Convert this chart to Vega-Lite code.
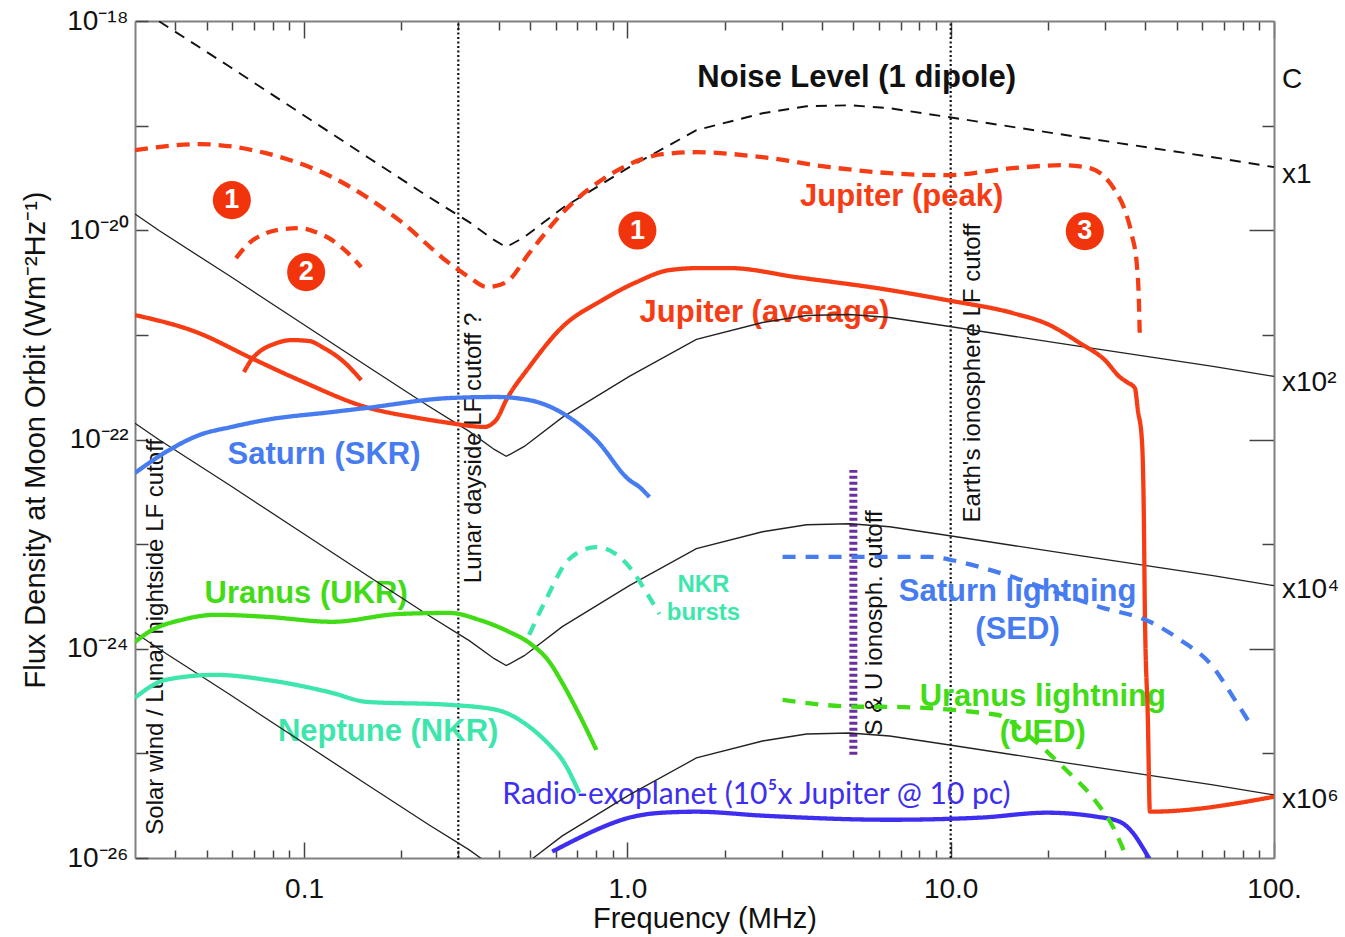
{
  "$schema": "https://vega.github.io/schema/vega-lite/v6.json",
  "width": 1139,
  "height": 837,
  "autosize": {"type": "none"},
  "padding": {"left": 135, "top": 21, "right": 71, "bottom": 79},
  "background": "white",
  "config": {
    "view": {"stroke": null},
    "font": "Liberation Sans",
    "axis": {"grid": false}
  },
  "datasets": {
    "curves": [
      {"s": "noise", "f": 0.0356, "v": 9.93e-19},
      {"s": "noise", "f": 0.0586, "v": 3.69e-19},
      {"s": "noise", "f": 0.0965, "v": 1.343e-19},
      {"s": "noise", "f": 0.159, "v": 4.88e-20},
      {"s": "noise", "f": 0.2438, "v": 2.07e-20},
      {"s": "noise", "f": 0.3243, "v": 1.195e-20},
      {"s": "noise", "f": 0.3876, "v": 8.04e-21},
      {"s": "noise", "f": 0.422, "v": 6.9e-21},
      {"s": "noise", "f": 0.4799, "v": 8.59e-21},
      {"s": "noise", "f": 0.6291, "v": 1.626e-20},
      {"s": "noise", "f": 1.014, "v": 4.01e-20},
      {"s": "noise", "f": 1.635, "v": 9.04e-20},
      {"s": "noise", "f": 2.618, "v": 1.313e-19},
      {"s": "noise", "f": 3.583, "v": 1.532e-19},
      {"s": "noise", "f": 4.868, "v": 1.566e-19},
      {"s": "noise", "f": 6.475, "v": 1.466e-19},
      {"s": "noise", "f": 9.93, "v": 1.202e-19},
      {"s": "noise", "f": 25.08, "v": 7.75e-20},
      {"s": "noise", "f": 64.74, "v": 4.99e-20},
      {"s": "noise", "f": 100, "v": 4.01e-20},

      {"s": "s2", "f": 0.03, "v": 1.43e-20},
      {"s": "s2", "f": 0.0356, "v": 9.93e-21},
      {"s": "s2", "f": 0.0586, "v": 3.69e-21},
      {"s": "s2", "f": 0.0965, "v": 1.343e-21},
      {"s": "s2", "f": 0.159, "v": 4.88e-22},
      {"s": "s2", "f": 0.2438, "v": 2.07e-22},
      {"s": "s2", "f": 0.3243, "v": 1.195e-22},
      {"s": "s2", "f": 0.3876, "v": 8.04e-23},
      {"s": "s2", "f": 0.422, "v": 6.9e-23},
      {"s": "s2", "f": 0.4799, "v": 8.59e-23},
      {"s": "s2", "f": 0.6291, "v": 1.626e-22},
      {"s": "s2", "f": 1.014, "v": 4.01e-22},
      {"s": "s2", "f": 1.635, "v": 9.04e-22},
      {"s": "s2", "f": 2.618, "v": 1.313e-21},
      {"s": "s2", "f": 3.583, "v": 1.532e-21},
      {"s": "s2", "f": 4.868, "v": 1.566e-21},
      {"s": "s2", "f": 6.475, "v": 1.466e-21},
      {"s": "s2", "f": 9.93, "v": 1.202e-21},
      {"s": "s2", "f": 25.08, "v": 7.75e-22},
      {"s": "s2", "f": 64.74, "v": 4.99e-22},
      {"s": "s2", "f": 100, "v": 4.01e-22},

      {"s": "s4", "f": 0.03, "v": 1.43e-22},
      {"s": "s4", "f": 0.0356, "v": 9.93e-23},
      {"s": "s4", "f": 0.0586, "v": 3.69e-23},
      {"s": "s4", "f": 0.0965, "v": 1.343e-23},
      {"s": "s4", "f": 0.159, "v": 4.88e-24},
      {"s": "s4", "f": 0.2438, "v": 2.07e-24},
      {"s": "s4", "f": 0.3243, "v": 1.195e-24},
      {"s": "s4", "f": 0.3876, "v": 8.04e-25},
      {"s": "s4", "f": 0.422, "v": 6.9e-25},
      {"s": "s4", "f": 0.4799, "v": 8.59e-25},
      {"s": "s4", "f": 0.6291, "v": 1.626e-24},
      {"s": "s4", "f": 1.014, "v": 4.01e-24},
      {"s": "s4", "f": 1.635, "v": 9.04e-24},
      {"s": "s4", "f": 2.618, "v": 1.313e-23},
      {"s": "s4", "f": 3.583, "v": 1.532e-23},
      {"s": "s4", "f": 4.868, "v": 1.566e-23},
      {"s": "s4", "f": 6.475, "v": 1.466e-23},
      {"s": "s4", "f": 9.93, "v": 1.202e-23},
      {"s": "s4", "f": 25.08, "v": 7.75e-24},
      {"s": "s4", "f": 64.74, "v": 4.99e-24},
      {"s": "s4", "f": 100, "v": 4.01e-24},

      {"s": "s6", "f": 0.03, "v": 1.43e-24},
      {"s": "s6", "f": 0.0356, "v": 9.93e-25},
      {"s": "s6", "f": 0.0586, "v": 3.69e-25},
      {"s": "s6", "f": 0.0965, "v": 1.343e-25},
      {"s": "s6", "f": 0.159, "v": 4.88e-26},
      {"s": "s6", "f": 0.2438, "v": 2.07e-26},
      {"s": "s6", "f": 0.3243, "v": 1.195e-26},
      {"s": "s6", "f": 0.3876, "v": 8.04e-27},
      {"s": "s6", "f": 0.422, "v": 6.9e-27},
      {"s": "s6", "f": 0.4799, "v": 8.59e-27},
      {"s": "s6", "f": 0.6291, "v": 1.626e-26},
      {"s": "s6", "f": 1.014, "v": 4.01e-26},
      {"s": "s6", "f": 1.635, "v": 9.04e-26},
      {"s": "s6", "f": 2.618, "v": 1.313e-25},
      {"s": "s6", "f": 3.583, "v": 1.532e-25},
      {"s": "s6", "f": 4.868, "v": 1.566e-25},
      {"s": "s6", "f": 6.475, "v": 1.466e-25},
      {"s": "s6", "f": 9.93, "v": 1.202e-25},
      {"s": "s6", "f": 25.08, "v": 7.75e-26},
      {"s": "s6", "f": 64.74, "v": 4.99e-26},
      {"s": "s6", "f": 100, "v": 4.01e-26},

      {"s": "jpeak", "f": 0.03, "v": 5.82e-20},
      {"s": "jpeak", "f": 0.04729, "v": 6.65e-20},
      {"s": "jpeak", "f": 0.07627, "v": 5.45e-20},
      {"s": "jpeak", "f": 0.1221, "v": 3.22e-20},
      {"s": "jpeak", "f": 0.1968, "v": 1.249e-20},
      {"s": "jpeak", "f": 0.2812, "v": 4.85e-21},
      {"s": "jpeak", "f": 0.3242, "v": 3.56e-21},
      {"s": "jpeak", "f": 0.3686, "v": 2.86e-21},
      {"s": "jpeak", "f": 0.422, "v": 3.19e-21},
      {"s": "jpeak", "f": 0.4971, "v": 6.04e-21},
      {"s": "jpeak", "f": 0.6291, "v": 1.457e-20},
      {"s": "jpeak", "f": 0.8985, "v": 3.51e-20},
      {"s": "jpeak", "f": 1.283, "v": 5.33e-20},
      {"s": "jpeak", "f": 1.635, "v": 5.57e-20},
      {"s": "jpeak", "f": 2.618, "v": 4.99e-20},
      {"s": "jpeak", "f": 4.222, "v": 4.01e-20},
      {"s": "jpeak", "f": 6.475, "v": 3.51e-20},
      {"s": "jpeak", "f": 9.719, "v": 3.36e-20},
      {"s": "jpeak", "f": 15.56, "v": 3.92e-20},
      {"s": "jpeak", "f": 22.22, "v": 4.19e-20},
      {"s": "jpeak", "f": 26.94, "v": 3.92e-20},
      {"s": "jpeak", "f": 29.99, "v": 3.22e-20},
      {"s": "jpeak", "f": 32.19, "v": 2.42e-20},
      {"s": "jpeak", "f": 34.57, "v": 1.556e-20},
      {"s": "jpeak", "f": 36.34, "v": 8.98e-21},
      {"s": "jpeak", "f": 37.66, "v": 4.64e-21},
      {"s": "jpeak", "f": 38.2, "v": 2.15e-21},
      {"s": "jpeak", "f": 38.47, "v": 8.92e-22},

      {"s": "j2d", "f": 0.0616, "v": 5.41e-21},
      {"s": "j2d", "f": 0.0676, "v": 7.53e-21},
      {"s": "j2d", "f": 0.07627, "v": 9.38e-21},
      {"s": "j2d", "f": 0.0855, "v": 1.024e-20},
      {"s": "j2d", "f": 0.0965, "v": 1.047e-20},
      {"s": "j2d", "f": 0.1089, "v": 9.59e-21},
      {"s": "j2d", "f": 0.1221, "v": 8.04e-21},
      {"s": "j2d", "f": 0.1358, "v": 6.18e-21},
      {"s": "j2d", "f": 0.1502, "v": 4.44e-21},

      {"s": "javg", "f": 0.03, "v": 1.546e-21},
      {"s": "javg", "f": 0.04729, "v": 1.04e-21},
      {"s": "javg", "f": 0.0676, "v": 6.14e-22},
      {"s": "javg", "f": 0.0965, "v": 3.7e-22},
      {"s": "javg", "f": 0.1556, "v": 2.04e-22},
      {"s": "javg", "f": 0.227, "v": 1.6e-22},
      {"s": "javg", "f": 0.2812, "v": 1.44e-22},
      {"s": "javg", "f": 0.3242, "v": 1.35e-22},
      {"s": "javg", "f": 0.3608, "v": 1.32e-22},
      {"s": "javg", "f": 0.393, "v": 1.54e-22},
      {"s": "javg", "f": 0.422, "v": 2.38e-22},
      {"s": "javg", "f": 0.4971, "v": 4.93e-22},
      {"s": "javg", "f": 0.6291, "v": 1.19e-21},
      {"s": "javg", "f": 0.8368, "v": 2.15e-21},
      {"s": "javg", "f": 1.066, "v": 3.19e-21},
      {"s": "javg", "f": 1.349, "v": 4.16e-21},
      {"s": "javg", "f": 1.671, "v": 4.35e-21},
      {"s": "javg", "f": 2.07, "v": 4.35e-21},
      {"s": "javg", "f": 3.336, "v": 3.56e-21},
      {"s": "javg", "f": 6.475, "v": 2.68e-21},
      {"s": "javg", "f": 9.719, "v": 2.15e-21},
      {"s": "javg", "f": 15.56, "v": 1.615e-21},
      {"s": "javg", "f": 20.25, "v": 1.24e-21},
      {"s": "javg", "f": 25.08, "v": 8.35e-22},
      {"s": "javg", "f": 29.99, "v": 5.74e-22},
      {"s": "javg", "f": 33.37, "v": 3.95e-22},
      {"s": "javg", "f": 35.07, "v": 3.54e-22},
      {"s": "javg", "f": 37.13, "v": 3.1e-22},
      {"s": "javg", "f": 37.93, "v": 1.91e-22},
      {"s": "javg", "f": 39.03, "v": 9.89e-23},
      {"s": "javg", "f": 39.59, "v": 1.7e-23},
      {"s": "javg", "f": 39.86, "v": 2.36e-24},
      {"s": "javg", "f": 40.73, "v": 2.09e-25},
      {"s": "javg", "f": 41.32, "v": 2.77e-26},
      {"s": "javg", "f": 100, "v": 3.85e-26},

      {"s": "j2s", "f": 0.0652, "v": 4.41e-22},
      {"s": "j2s", "f": 0.0686, "v": 5.74e-22},
      {"s": "j2s", "f": 0.0726, "v": 6.86e-22},
      {"s": "j2s", "f": 0.0807, "v": 8.17e-22},
      {"s": "j2s", "f": 0.0918, "v": 8.92e-22},
      {"s": "j2s", "f": 0.1036, "v": 8.73e-22},
      {"s": "j2s", "f": 0.1153, "v": 7.48e-22},
      {"s": "j2s", "f": 0.133, "v": 5.5e-22},
      {"s": "j2s", "f": 0.1502, "v": 3.7e-22},

      {"s": "skr", "f": 0.03, "v": 4.79e-23},
      {"s": "skr", "f": 0.03739, "v": 7.6e-23},
      {"s": "skr", "f": 0.04729, "v": 1.1e-22},
      {"s": "skr", "f": 0.0598, "v": 1.32e-22},
      {"s": "skr", "f": 0.07627, "v": 1.54e-22},
      {"s": "skr", "f": 0.1221, "v": 1.83e-22},
      {"s": "skr", "f": 0.1556, "v": 2.0e-22},
      {"s": "skr", "f": 0.2812, "v": 2.49e-22},
      {"s": "skr", "f": 0.393, "v": 2.55e-22},
      {"s": "skr", "f": 0.4971, "v": 2.38e-22},
      {"s": "skr", "f": 0.6291, "v": 1.79e-22},
      {"s": "skr", "f": 0.8017, "v": 9.89e-23},
      {"s": "skr", "f": 1.014, "v": 4.1e-23},
      {"s": "skr", "f": 1.089, "v": 3.52e-23},
      {"s": "skr", "f": 1.17, "v": 2.82e-23},

      {"s": "ukr", "f": 0.03, "v": 1.16e-24},
      {"s": "ukr", "f": 0.03312, "v": 1.45e-24},
      {"s": "ukr", "f": 0.04192, "v": 1.89e-24},
      {"s": "ukr", "f": 0.0534, "v": 2.11e-24},
      {"s": "ukr", "f": 0.07627, "v": 2.02e-24},
      {"s": "ukr", "f": 0.1221, "v": 1.81e-24},
      {"s": "ukr", "f": 0.1968, "v": 2.15e-24},
      {"s": "ukr", "f": 0.2812, "v": 2.2e-24},
      {"s": "ukr", "f": 0.348, "v": 1.89e-24},
      {"s": "ukr", "f": 0.4311, "v": 1.45e-24},
      {"s": "ukr", "f": 0.4971, "v": 1.14e-24},
      {"s": "ukr", "f": 0.5734, "v": 7.5e-25},
      {"s": "ukr", "f": 0.6291, "v": 4.72e-25},
      {"s": "ukr", "f": 0.7101, "v": 2.34e-25},
      {"s": "ukr", "f": 0.8017, "v": 1.08e-25},

      {"s": "nkr", "f": 0.03, "v": 3.4e-25},
      {"s": "nkr", "f": 0.03739, "v": 5.05e-25},
      {"s": "nkr", "f": 0.0534, "v": 5.63e-25},
      {"s": "nkr", "f": 0.07627, "v": 5.05e-25},
      {"s": "nkr", "f": 0.1221, "v": 3.79e-25},
      {"s": "nkr", "f": 0.1556, "v": 3.11e-25},
      {"s": "nkr", "f": 0.2812, "v": 2.91e-25},
      {"s": "nkr", "f": 0.393, "v": 2.61e-25},
      {"s": "nkr", "f": 0.4971, "v": 1.8e-25},
      {"s": "nkr", "f": 0.5734, "v": 1.21e-25},
      {"s": "nkr", "f": 0.6291, "v": 8.69e-26},
      {"s": "nkr", "f": 0.7101, "v": 4.2e-26},

      {"s": "nkrb", "f": 0.4971, "v": 1.36e-24},
      {"s": "nkrb", "f": 0.5612, "v": 2.99e-24},
      {"s": "nkrb", "f": 0.6613, "v": 7.21e-24},
      {"s": "nkrb", "f": 0.8017, "v": 9.37e-24},
      {"s": "nkrb", "f": 1.014, "v": 6.06e-24},
      {"s": "nkrb", "f": 1.153, "v": 3.34e-24},
      {"s": "nkrb", "f": 1.256, "v": 2.15e-24},

      {"s": "exo", "f": 0.5857, "v": 1.15e-26},
      {"s": "exo", "f": 0.7101, "v": 1.56e-26},
      {"s": "exo", "f": 0.8017, "v": 1.86e-26},
      {"s": "exo", "f": 1.014, "v": 2.43e-26},
      {"s": "exo", "f": 1.283, "v": 2.71e-26},
      {"s": "exo", "f": 1.635, "v": 2.77e-26},
      {"s": "exo", "f": 2.618, "v": 2.54e-26},
      {"s": "exo", "f": 6.475, "v": 2.32e-26},
      {"s": "exo", "f": 12.3, "v": 2.43e-26},
      {"s": "exo", "f": 19.83, "v": 2.71e-26},
      {"s": "exo", "f": 28.31, "v": 2.48e-26},
      {"s": "exo", "f": 33.37, "v": 2.22e-26},
      {"s": "exo", "f": 36.6, "v": 1.74e-26},
      {"s": "exo", "f": 39.31, "v": 1.25e-26},
      {"s": "exo", "f": 41.32, "v": 9.63e-27},

      {"s": "sed", "f": 3.02, "v": 7.55e-24},
      {"s": "sed", "f": 5.226, "v": 7.55e-24},
      {"s": "sed", "f": 8.61, "v": 7.55e-24},
      {"s": "sed", "f": 10.66, "v": 6.76e-24},
      {"s": "sed", "f": 14.18, "v": 5.31e-24},
      {"s": "sed", "f": 20.25, "v": 3.65e-24},
      {"s": "sed", "f": 28.93, "v": 2.51e-24},
      {"s": "sed", "f": 41.32, "v": 1.81e-24},
      {"s": "sed", "f": 51.17, "v": 1.22e-24},
      {"s": "sed", "f": 64.74, "v": 6.72e-25},
      {"s": "sed", "f": 74.66, "v": 3.47e-25},
      {"s": "sed", "f": 85.5, "v": 1.8e-25},

      {"s": "ued", "f": 3.02, "v": 3.25e-25},
      {"s": "ued", "f": 5.226, "v": 2.79e-25},
      {"s": "ued", "f": 6.03, "v": 2.79e-25},
      {"s": "ued", "f": 13.88, "v": 2.34e-25},
      {"s": "ued", "f": 17.56, "v": 1.44e-25},
      {"s": "ued", "f": 22.22, "v": 7.45e-26},
      {"s": "ued", "f": 28.31, "v": 3.38e-26},
      {"s": "ued", "f": 31.74, "v": 1.99e-26},
      {"s": "ued", "f": 35.07, "v": 1.0e-26}
    ],
    "cuts": [
      {"s": "cut", "f": 0.3, "v": 1e-26, "v2": 1e-18},
      {"s": "cut", "f": 10, "v": 1e-26, "v2": 1e-18}
    ],
    "ionocut": [
      {"s": "su", "f": 5, "v": 9.7e-26, "v2": 5.11e-23}
    ],
    "labels": [
      {"s": "noise", "f": 5.12, "v": 2.84e-19, "t": "Noise Level (1 dipole)"},
      {"s": "jpeak", "f": 7.05, "v": 2.07e-20, "t": "Jupiter (peak)"},
      {"s": "javg", "f": 2.656, "v": 1.615e-21, "t": "Jupiter (average)"},
      {"s": "skr", "f": 0.1153, "v": 7.11e-23, "t": "Saturn (SKR)"},
      {"s": "ukr", "f": 0.1015, "v": 3.34e-24, "t": "Uranus (UKR)"},
      {"s": "nkr", "f": 0.182, "v": 1.61e-25, "t": "Neptune (NKR)"},
      {"s": "sed", "f": 16.1, "v": 3.49e-24, "t": "Saturn lightning"},
      {"s": "sed", "f": 16.1, "v": 1.52e-24, "t": "(SED)"},
      {"s": "ued", "f": 19.27, "v": 3.47e-25, "t": "Uranus lightning"},
      {"s": "ued", "f": 19.27, "v": 1.57e-25, "t": "(UED)"}
    ],
    "small": [
      {"s": "nkrb", "f": 1.719, "v": 4.08e-24, "t": "NKR"},
      {"s": "nkrb", "f": 1.719, "v": 2.2e-24, "t": "bursts"}
    ],
    "vlabels": [
      {"s": "black", "f": 0.0348, "v": 1.3e-24, "t": "Solar wind / Lunar nightside LF cutoff"},
      {"s": "black", "f": 0.336, "v": 8.3e-23, "t": "Lunar dayside LF cutoff ?"},
      {"s": "black", "f": 5.818, "v": 1.767e-24, "t": "S & U ionosph. cutoff"},
      {"s": "black", "f": 11.7, "v": 4.315e-22, "t": "Earth's ionosphere LF cutoff"}
    ],
    "exolabel": [
      {"s": "exo", "f": 2.508, "v": 4.02e-26, "t": "Radio-exoplanet (10⁵x Jupiter @ 10 pc)"}
    ],
    "rlabels": [
      {"s": "black", "f": 100, "v": 2.71e-19, "t": "C"},
      {"s": "black", "f": 100, "v": 3.36e-20, "t": "x1"},
      {"s": "black", "f": 100, "v": 3.45e-22, "t": "x10²"},
      {"s": "black", "f": 100, "v": 3.65e-24, "t": "x10⁴"},
      {"s": "black", "f": 100, "v": 3.6e-26, "t": "x10⁶"}
    ],
    "badges": [
      {"s": "circ", "f": 0.0598, "v": 1.94e-20, "t": "1"},
      {"s": "circ", "f": 0.1015, "v": 3.98e-21, "t": "2"},
      {"s": "circ", "f": 1.074, "v": 9.93e-21, "t": "1"},
      {"s": "circ", "f": 25.99, "v": 9.8e-21, "t": "3"}
    ]
  },
  "layer": [
    {
      "encoding": {
        "x": {
          "field": "f",
          "type": "quantitative",
          "scale": {"type": "log", "domain": [0.03, 100], "nice": false},
          "axis": {
            "orient": "bottom",
            "title": "Frequency (MHz)",
            "values": [0.04, 0.05, 0.06, 0.07, 0.08, 0.09, 0.1, 0.2, 0.3, 0.4, 0.5, 0.6, 0.7, 0.8, 0.9, 1, 2, 3, 4, 5, 6, 7, 8, 9, 10, 20, 30, 40, 50, 60, 70, 80, 90, 100],
            "labelExpr": "datum.value == 0.1 ? '0.1' : datum.value == 1 ? '1.0' : datum.value == 10 ? '10.0' : datum.value == 100 ? '100.' : ''",
            "tickSize": {"condition": {"test": "indexof([0.1, 1, 10, 100], datum.value) >= 0", "value": -16}, "value": -8},
            "labelPadding": 33,
            "labelFont": "Liberation Sans",
            "labelFontSize": 28,
            "labelColor": "#111",
            "labelFlush": false,
            "labelOverlap": false,
            "titleFont": "Liberation Sans",
            "titleFontSize": 29,
            "titleFontWeight": "normal",
            "titleColor": "#111",
            "titlePadding": -7,
            "domainColor": "#808080",
            "domainWidth": 2,
            "tickColor": "#444",
            "tickWidth": 1.5
          }
        },
        "y": {
          "field": "v",
          "type": "quantitative",
          "scale": {"type": "log", "domain": [1e-26, 1e-18], "nice": false},
          "axis": {
            "orient": "left",
            "title": "Flux Density at Moon Orbit (Wm⁻²Hz⁻¹)",
            "values": [1e-26, 1e-25, 1e-24, 1e-23, 1e-22, 1e-21, 1e-20, 1e-19, 1e-18],
            "labelExpr": "datum.value > 5e-19 ? '10⁻¹⁸' : datum.value > 5e-20 ? '' : datum.value > 5e-21 ? '10⁻²⁰' : datum.value > 5e-22 ? '' : datum.value > 5e-23 ? '10⁻²²' : datum.value > 5e-24 ? '' : datum.value > 5e-25 ? '10⁻²⁴' : datum.value > 5e-26 ? '' : '10⁻²⁶'",
            "tickSize": -13,
            "labelPadding": 20,
            "labelFont": "Liberation Sans",
            "labelFontSize": 28,
            "labelColor": "#111",
            "labelFlush": false,
            "labelOverlap": false,
            "titleFont": "Liberation Sans",
            "titleFontSize": 29,
            "titleFontWeight": "normal",
            "titleColor": "#111",
            "titlePadding": 16,
            "domainColor": "#808080",
            "domainWidth": 2,
            "tickColor": "#444",
            "tickWidth": 1.5
          }
        },
        "color": {
          "field": "s",
          "type": "nominal",
          "legend": null,
          "scale": {
            "domain": ["noise", "s2", "s4", "s6", "jpeak", "j2d", "javg", "j2s", "skr", "ukr", "nkr", "nkrb", "exo", "sed", "ued", "cut", "su", "black", "circ"],
            "range": ["#111111", "#222222", "#222222", "#222222", "#f53c14", "#f53c14", "#f53c14", "#f53c14", "#477cf0", "#42dc16", "#3ee6ac", "#3ee6ac", "#3d2ef0", "#477cf0", "#42dc16", "#111111", "#6a2ea3", "#111111", "#f2340c"]
          }
        }
      },
      "layer": [
        {
          "data": {"name": "cuts"},
          "mark": {"type": "rule", "strokeDash": [2, 2.5], "strokeWidth": 2.2},
          "encoding": {"y2": {"field": "v2"}}
        },
        {
          "data": {"name": "ionocut"},
          "mark": {"type": "rule", "strokeDash": [3, 3], "strokeWidth": 8},
          "encoding": {"y2": {"field": "v2"}}
        },
        {
          "data": {"name": "labels"},
          "mark": {"type": "text", "font": "Liberation Sans", "fontSize": 31, "fontWeight": "bold", "align": "center", "baseline": "middle"},
          "encoding": {"text": {"field": "t"}}
        },
        {
          "data": {"name": "small"},
          "mark": {"type": "text", "font": "Liberation Sans", "fontSize": 24, "fontWeight": "bold", "align": "center", "baseline": "middle"},
          "encoding": {"text": {"field": "t"}}
        },
        {
          "data": {"name": "vlabels"},
          "mark": {"type": "text", "font": "Liberation Sans", "fontSize": 24, "angle": 270, "align": "center", "baseline": "middle"},
          "encoding": {"text": {"field": "t"}}
        },
        {
          "data": {"name": "exolabel"},
          "mark": {"type": "text", "font": "Lato", "fontSize": 30, "align": "center", "baseline": "middle"},
          "encoding": {"text": {"field": "t"}}
        },
        {
          "data": {"name": "rlabels"},
          "mark": {"type": "text", "font": "Liberation Sans", "fontSize": 28, "align": "left", "baseline": "middle", "dx": 8},
          "encoding": {"text": {"field": "t"}}
        },
        {
          "data": {"name": "curves"},
          "transform": [{"filter": {"field": "s", "oneOf": ["s2", "s4", "s6"]}}],
          "mark": {"type": "line", "clip": true, "strokeWidth": 1.3, "strokeJoin": "miter"}
        },
        {
          "data": {"name": "curves"},
          "transform": [{"filter": {"field": "s", "equal": "noise"}}],
          "mark": {"type": "line", "clip": true, "strokeWidth": 1.9, "strokeDash": [11, 8]}
        },
        {
          "data": {"name": "curves"},
          "transform": [{"filter": {"field": "s", "oneOf": ["jpeak", "j2d", "javg", "j2s", "skr", "ukr", "nkr", "nkrb", "exo", "sed", "ued"]}}],
          "mark": {"type": "line", "clip": true, "strokeWidth": 4.3, "strokeCap": "butt", "strokeJoin": "round", "interpolate": "monotone"},
          "encoding": {
            "strokeDash": {
              "field": "s",
              "type": "nominal",
              "legend": null,
              "scale": {
                "domain": ["jpeak", "j2d", "javg", "j2s", "skr", "ukr", "nkr", "nkrb", "exo", "sed", "ued"],
                "range": [[13, 8], [12, 8], [1, 0], [1, 0], [1, 0], [1, 0], [1, 0], [12, 9], [1, 0], [13, 10], [13, 10]]
              }
            }
          }
        },
        {
          "data": {"name": "badges"},
          "mark": {"type": "point", "shape": "circle", "filled": true, "size": 1450, "opacity": 1}
        },
        {
          "data": {"name": "badges"},
          "mark": {"type": "text", "font": "Liberation Sans", "fontSize": 27, "fontWeight": "bold", "align": "center", "baseline": "middle"},
          "encoding": {"text": {"field": "t"}, "color": {"value": "white"}}
        }
      ]
    },
    {
      "data": {"values": [{"f": 1, "v": 1e-22}]},
      "mark": {"type": "point", "opacity": 0},
      "encoding": {
        "x": {
          "field": "f",
          "type": "quantitative",
          "scale": {"type": "log", "domain": [0.03, 100], "nice": false},
          "axis": {
            "orient": "top",
            "title": null,
            "labels": false,
            "values": [0.04, 0.05, 0.06, 0.07, 0.08, 0.09, 0.1, 0.2, 0.3, 0.4, 0.5, 0.6, 0.7, 0.8, 0.9, 1, 2, 3, 4, 5, 6, 7, 8, 9, 10, 20, 30, 40, 50, 60, 70, 80, 90, 100],
            "tickSize": {"condition": {"test": "indexof([0.1, 1, 10, 100], datum.value) >= 0", "value": -17}, "value": -9},
            "domainColor": "#808080",
            "domainWidth": 2,
            "tickColor": "#444",
            "tickWidth": 1.5
          }
        },
        "y": {
          "field": "v",
          "type": "quantitative",
          "scale": {"type": "log", "domain": [1e-26, 1e-18], "nice": false},
          "axis": {
            "orient": "right",
            "title": null,
            "labels": false,
            "values": [1e-25, 1e-24, 1e-23, 1e-22, 1e-21, 1e-20, 1e-19],
            "tickSize": {"condition": {"test": "indexof([1e-20, 1e-22, 1e-24], datum.value) >= 0", "value": -25}, "value": -12},
            "domainColor": "#808080",
            "domainWidth": 2,
            "tickColor": "#444",
            "tickWidth": 1.5
          }
        }
      }
    }
  ],
  "resolve": {"axis": {"x": "independent", "y": "independent"}}
}
